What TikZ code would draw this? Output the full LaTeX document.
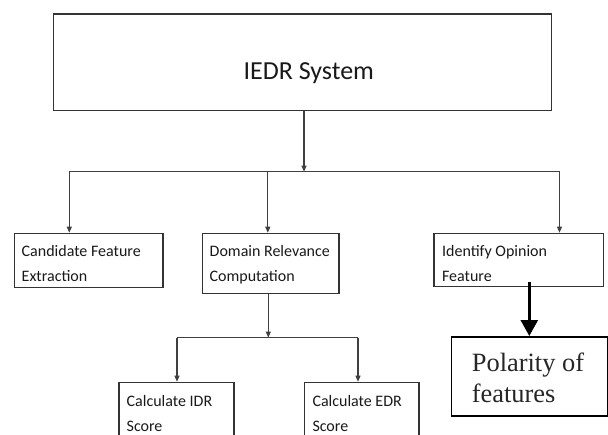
\documentclass[tikz,border=0pt]{standalone}
\usepackage{fontspec}
\setmainfont{Carlito}
\newfontfamily\timesf{Liberation Serif}
\usetikzlibrary{arrows.meta}
\begin{document}
\begin{tikzpicture}[x=1pt,y=-1pt,
 box/.style={draw=black!80,line width=1.3pt,anchor=north west,inner sep=0pt},
 lbl/.style={anchor=base west,font=\fontsize{16}{19}\selectfont,inner sep=0pt,text=black!90},
 conn/.style={draw=black!75,line width=1.1pt},
 arr/.style={conn,-{Triangle[length=6pt,width=5pt]}},
 bigarr/.style={draw=black,line width=2.6pt,-{Triangle[length=16pt,width=17pt]}}]
\useasboundingbox (0,0) rectangle (608,434);
\clip (0,0) rectangle (608,434);
% top box
\node[box,minimum width=498pt,minimum height=96.7pt] (top) at (52.7,13.3) {};
\node[anchor=base west,inner sep=0pt,font=\fontsize{26}{30}\selectfont,text=black!90] (toptxt) at (243.4,79) {IEDR System};
% second level boxes
\node[box,minimum width=148.7pt,minimum height=54pt] (cand) at (13.6,232.7) {};
\node[box,minimum width=136.6pt,minimum height=60pt] (dom) at (201.7,232.7) {};
\node[box,minimum width=169.3pt,minimum height=53.3pt] (iden) at (433.4,232.7) {};
\node[lbl] (c1) at (21.5,256) {Candidate Feature};
\node[lbl] (c2) at (21.5,281.7) {Extraction};
\node[lbl] (d1) at (209.5,256) {Domain Relevance};
\node[lbl] (d2) at (209.5,281.7) {Computation};
\node[lbl] (i1) at (441.9,256) {Identify Opinion};
\node[lbl] (i2) at (441.9,281.7) {Feature};
% third level boxes (cut off by page bottom)
\node[box,minimum width=115pt,minimum height=70pt] (idr) at (118.3,381.7) {};
\node[box,minimum width=114.3pt,minimum height=70pt] (edr) at (304,381.7) {};
\node[lbl] (r1) at (126.5,406) {Calculate IDR};
\node[lbl] (r2) at (126.5,431.7) {Score};
\node[lbl] (e1) at (312.3,406) {Calculate EDR};
\node[lbl] (e2) at (312.3,431.7) {Score};
% polarity box
\node[draw=black,line width=1.8pt,anchor=north west,inner sep=0pt,minimum width=156.4pt,minimum height=79pt] (pol) at (450.6,336) {};
\node[anchor=base west,inner sep=0pt,font=\timesf\fontsize{26.4}{30}\selectfont,text=black!85] (p1) at (471.7,371.7) {Polarity of};
\node[anchor=base west,inner sep=0pt,font=\timesf\fontsize{26.4}{30}\selectfont,text=black!85] (p2) at (471.7,402) {features};
% connectors level 1
\coordinate (j1) at (304,171.7);
\coordinate (hl) at (69.3,171.7);
\coordinate (hm) at (267.8,171.7);
\coordinate (hr) at (559.5,171.7);
\draw[arr] (top.south -| j1) -- (j1);
\draw[conn] (hl) -- (hr);
\draw[arr] (hl) -- (hl |- cand.north);
\draw[arr] (hm) -- (hm |- dom.north);
\draw[arr] (hr) -- (hr |- iden.north);
% connectors level 2
\coordinate (j2) at (268.3,337.6);
\coordinate (gl) at (177,337.6);
\coordinate (gr) at (358,337.6);
\draw[arr] (j2 |- dom.south) -- (j2);
\draw[conn] (gl) -- (gr);
\draw[arr] (gl) -- (gl |- idr.north);
\draw[arr] (gr) -- (gr |- edr.north);
% thick arrow
\coordinate (ts) at (529.3,281.7);
\draw[bigarr] (ts) -- (ts |- pol.north);
\end{tikzpicture}
\end{document}
